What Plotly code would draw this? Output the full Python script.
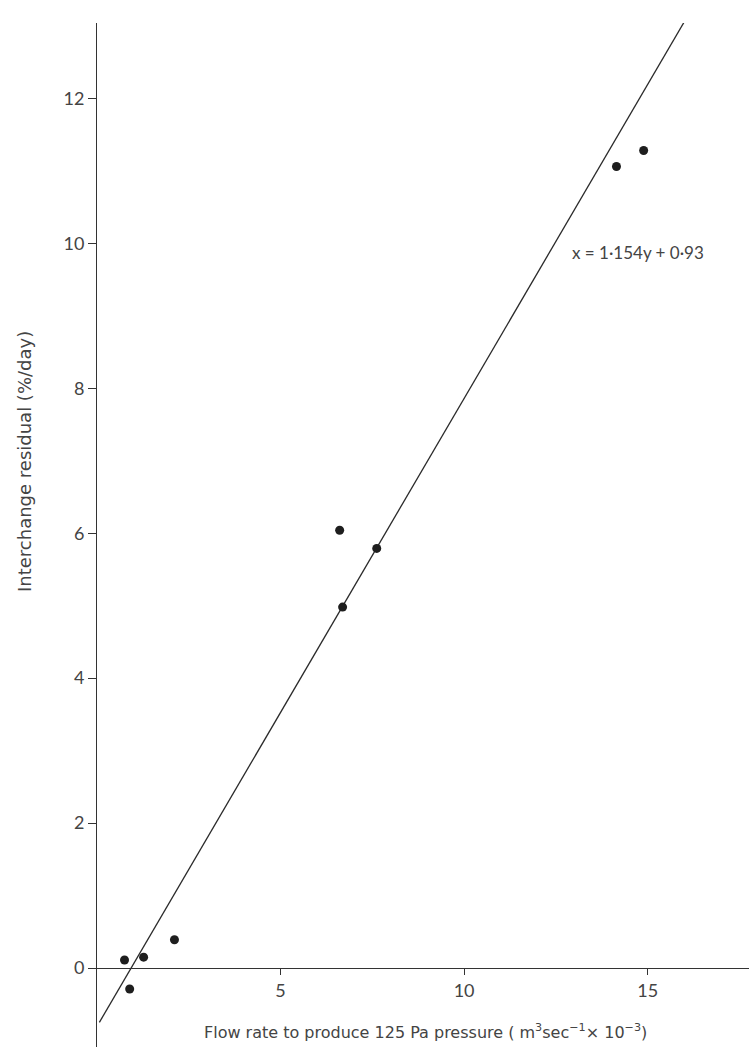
import plotly.graph_objects as go

# Data
flow_rate = [0.75, 0.89, 1.27, 2.11, 6.61, 6.69, 7.62, 14.15, 14.89]
residual = [0.11, -0.29, 0.15, 0.39, 6.04, 4.98, 5.79, 11.06, 11.28]

# Regression line x = a*y + b
fit_slope = 1.154
fit_intercept = 0.93
fit_y_ends = [-0.75, 13.2]
fit_x_ends = [fit_slope * v + fit_intercept for v in fit_y_ends]

x_ticks = [5, 10, 15]
y_ticks = [0, 2, 4, 6, 8, 10, 12]

W, H = 749, 1047
ml, mr, mt, mb = 97, 0, 23, 0
x_range = [0, 17.76]
y_range = [-1.09, 13.04]
y0_frac = (0 - y_range[0]) / (y_range[1] - y_range[0])

tick_font = "Lato, 'DejaVu Sans', sans-serif"
title_font = "'DejaVu Sans', sans-serif"
txt_col = "#444444"
line_col = "#333333"

pw = W - ml - mr
ph = H - mt - mb


def px_to_paper(px, py):
    return (px - ml) / pw, (H - mb - py) / ph


fig = go.Figure()
fig.add_trace(go.Scatter(x=fit_x_ends, y=fit_y_ends, mode="lines",
                         line=dict(color="#2a2a2a", width=1.3),
                         showlegend=False, hoverinfo="skip"))
fig.add_trace(go.Scatter(x=flow_rate, y=residual, mode="markers",
                         marker=dict(color="#1e1e1e", size=9),
                         showlegend=False))

eq_x, eq_y = px_to_paper(638, 252)
yt_x, yt_y = px_to_paper(24, 462)
xt_x, xt_y = px_to_paper(425, 1031)

fig.update_layout(
    width=W, height=H,
    margin=dict(l=ml, r=mr, t=mt, b=mb),
    paper_bgcolor="white", plot_bgcolor="white",
    font=dict(family=tick_font, color=txt_col, size=16),
    xaxis=dict(range=x_range, anchor="free", position=y0_frac,
               tickvals=x_ticks, ticktext=[str(v) for v in x_ticks],
               showgrid=False, zeroline=False, showline=True,
               linecolor=line_col, linewidth=1,
               ticks="outside", ticklen=6, tickcolor=line_col,
               tickfont=dict(size=18, color=txt_col)),
    yaxis=dict(range=y_range, tickvals=y_ticks,
               ticktext=[str(v) for v in y_ticks],
               showgrid=False, zeroline=False, showline=True,
               linecolor=line_col, linewidth=1,
               ticks="outside", ticklen=8, tickcolor=line_col,
               tickfont=dict(size=18, color=txt_col)),
    annotations=[
        dict(text="x = 1·154y + 0·93", x=eq_x, y=eq_y, xref="paper", yref="paper",
             xanchor="center", yanchor="middle", showarrow=False,
             font=dict(size=17, family=tick_font, color=txt_col)),
        dict(text="Interchange residual (%/day)", textangle=-90,
             x=yt_x, y=yt_y, xref="paper", yref="paper",
             xanchor="center", yanchor="middle", showarrow=False,
             font=dict(size=18, family=title_font, color=txt_col)),
        dict(text="Flow rate to produce 125 Pa pressure ( m<sup>3</sup>sec<sup>−1</sup>× 10<sup>−3</sup>)",
             x=xt_x, y=xt_y, xref="paper", yref="paper",
             xanchor="center", yanchor="middle", showarrow=False,
             font=dict(size=16, family=title_font, color=txt_col)),
    ],
)

fig.write_html("out.html")
